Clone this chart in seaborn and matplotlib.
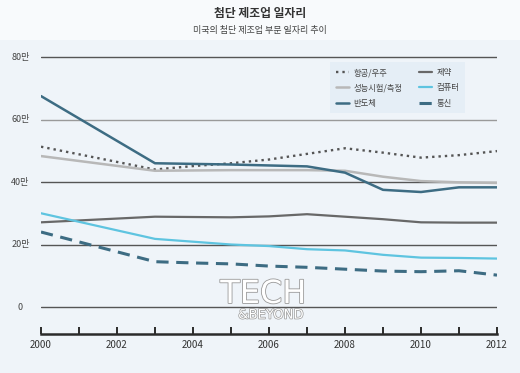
import matplotlib
matplotlib.use('Agg')
import matplotlib.pyplot as plt
import matplotlib.patheffects as pe
from matplotlib.lines import Line2D
from matplotlib.patches import Rectangle
import seaborn as sns

years = [2000, 2003, 2004, 2005, 2006, 2007, 2008, 2009, 2010, 2011, 2012]

aerospace = [51.3, 44.0, 45.1, 46.0, 47.2, 49.0, 50.8, 49.4, 47.8, 48.6, 49.9]
instruments = [48.3, 43.6, 43.7, 43.8, 43.8, 43.8, 43.6, 41.7, 40.3, 39.9, 39.7]
semiconductor = [67.5, 46.0, 45.8, 45.6, 45.3, 45.0, 43.0, 37.5, 36.8, 38.3, 38.3]
pharma = [27.1, 28.9, 28.8, 28.7, 29.0, 29.7, 28.9, 28.1, 27.1, 27.0, 27.0]
computer = [30.0, 21.8, 20.9, 20.0, 19.5, 18.5, 18.1, 16.7, 15.8, 15.7, 15.5]
telecom = [24.0, 14.5, 14.1, 13.8, 13.1, 12.7, 12.1, 11.5, 11.3, 11.6, 10.2]

series_names = ['항공/우주', '성능시험/측정', '반도체', '제약', '컴퓨터', '통신']
series_values = [aerospace, instruments, semiconductor, pharma, computer, telecom]

y_ticks = [0, 20, 40, 60, 80]
y_labels = ['0', '20만', '40만', '60만', '80만']
x_ticks = list(range(2000, 2013))

title = '첨단 제조업 일자리'
subtitle = '미국의 첨단 제조업 부문 일자리 추이'

colors = ['#555555', '#b8b8b8', '#3d6c83', '#686868', '#5ec4e0', '#3d6c83']
styles = [(0, (1, 1.7)), '-', '-', '-', '-', (0, (4, 2.5))]
widths = [1.7, 1.8, 1.8, 1.6, 1.6, 2.2]

sns.set_style('white')
plt.rcParams['font.family'] = ['Noto Sans CJK KR', 'DejaVu Sans']

fig = plt.figure(figsize=(5.2, 3.73), dpi=100)
fig.patch.set_facecolor('#eff4f9')
fig.patches.append(Rectangle((0, 1 - 40 / 373), 1, 40 / 373, transform=fig.transFigure,
                             facecolor='#f8fafc', edgecolor='none', zorder=0))

ax = fig.add_axes([41 / 520, 1 - 334 / 373, 456 / 520, (334 - 53.9) / 373])
ax.set_facecolor('none')

for t in y_ticks:
    c = '#9a9a9a' if t == 60 else '#555555'
    ax.axhline(t, color=c, lw=1.0, zorder=1)

for name, vals, c, ls, w in zip(series_names, series_values, colors, styles, widths):
    sns.lineplot(x=years, y=vals, ax=ax, color=c, linestyle=ls, lw=w, zorder=3)

ax.set_xlim(2000, 2012)
ax.set_ylim(-8.64, 81)

for s in ['top', 'right', 'left']:
    ax.spines[s].set_visible(False)
ax.spines['bottom'].set_color('#2b2b2b')
ax.spines['bottom'].set_linewidth(1.8)

ax.set_xticks(x_ticks)
ax.set_xticklabels([str(y) if y % 2 == 0 else '' for y in x_ticks])
ax.tick_params(axis='x', direction='in', length=5, width=1.4, color='#2b2b2b',
               labelsize=7, labelcolor='#333333', pad=4, bottom=True)
ax.set_yticks([])
for t, lab in zip(y_ticks, y_labels):
    ax.text(-0.045, t, lab, transform=ax.get_yaxis_transform(), ha='center', va='center',
            fontsize=6.5, color='#444444')

# watermark
ax.text(2005.85, 4.0, 'TECH', ha='center', va='center', fontsize=23, color='white',
        family='DejaVu Sans', zorder=4,
        path_effects=[pe.withStroke(linewidth=1.2, foreground='#9a9a9a')])
ax.text(2006.05, -2.6, '&BEYOND', ha='center', va='center', fontsize=9.5, color='white',
        family='DejaVu Sans', zorder=4,
        path_effects=[pe.withStroke(linewidth=1.0, foreground='#9a9a9a')])

fig.text(0.5, 1 - 14 / 373, title, ha='center', va='center', fontsize=8.5,
         fontweight='bold', color='#333333')
fig.text(0.5, 1 - 30 / 373, subtitle, ha='center', va='center', fontsize=6.5,
         color='#444444')

handles = [Line2D([0], [0], color=c, linestyle=ls, lw=w)
           for c, ls, w in zip(colors, styles, widths)]
leg = fig.legend(handles, series_names, ncol=2, loc='upper left',
                 bbox_to_anchor=(326 / 520, 1 - 58 / 373), fontsize=6,
                 handlelength=1.5, handletextpad=0.6, columnspacing=2.0,
                 labelspacing=0.75, frameon=True, fancybox=False, borderpad=0.7)
leg.get_frame().set_facecolor('#e3edf6')
leg.get_frame().set_edgecolor('none')
for txt in leg.get_texts():
    txt.set_color('#444444')

fig.savefig('out.png', dpi=100, facecolor=fig.get_facecolor())
